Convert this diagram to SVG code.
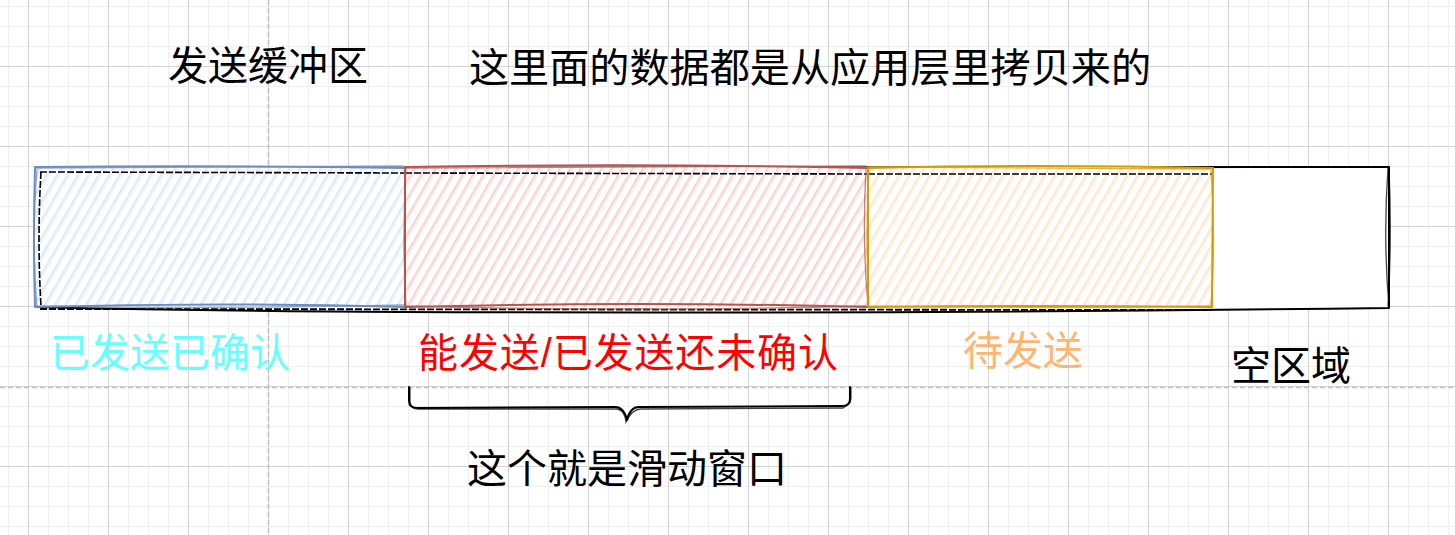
<svg xmlns="http://www.w3.org/2000/svg" width="1455" height="535" viewBox="0 0 1455 535">
<style>
  .t { font-family: "Liberation Sans", "Noto Sans CJK SC", sans-serif; font-size: 40px; }
  .sk { fill: none; stroke-width: 2; stroke-linejoin: round; stroke-linecap: round; }
  .sk2 { fill: none; stroke-width: 1.3; stroke-linecap: round; opacity: 0.75; }
</style>
<defs>
  <pattern id="gMinor" patternUnits="userSpaceOnUse" x="8" y="6" width="20" height="20">
    <path d="M0.5,0V20M0,0.5H20" stroke="#efefef" stroke-width="1" fill="none"/>
  </pattern>
  <pattern id="gMajor" patternUnits="userSpaceOnUse" x="28" y="66" width="80" height="80">
    <path d="M0.5,0V80M0,0.5H80" stroke="#d3d3d3" stroke-width="1" fill="none"/>
  </pattern>
  <pattern id="hBlue" patternUnits="userSpaceOnUse" width="9" height="9" patternTransform="rotate(30)">
    <rect width="9" height="9" fill="#ffffff"/>
    <path d="M2,0V9" stroke="#c8dbf6" stroke-width="1.2"/>
    <path d="M4,0V9" stroke="#dde9fb" stroke-width="0.8"/>
  </pattern>
  <pattern id="hRed" patternUnits="userSpaceOnUse" width="9" height="9" patternTransform="rotate(30)">
    <rect width="9" height="9" fill="#ffffff"/>
    <path d="M2,0V9" stroke="#f3b9b6" stroke-width="1.2"/>
    <path d="M4,0V9" stroke="#f8d2d0" stroke-width="0.8"/>
  </pattern>
  <pattern id="hOrange" patternUnits="userSpaceOnUse" width="9" height="9" patternTransform="rotate(30)">
    <rect width="9" height="9" fill="#ffffff"/>
    <path d="M2,0V9" stroke="#ffd8b0" stroke-width="1.2"/>
    <path d="M4,0V9" stroke="#ffe7cf" stroke-width="0.8"/>
  </pattern>
</defs>

<g id="background">
  <rect width="1455" height="535" fill="#ffffff"/>
  <rect width="1455" height="535" fill="url(#gMinor)"/>
  <rect width="1455" height="535" fill="url(#gMajor)"/>
  <path d="M268.5,0V535M0,387.5H1455" stroke="#c2c2c2" stroke-width="1.6" stroke-dasharray="5 3" fill="none"/>
</g>

<g id="buffer">
  <path d="M36,168 L1389,167 L1389,308 Q900,314 400,312 Q200,311 36,307 Z" fill="#ffffff"/>
  <path class="sk" d="M36,168 L1389,167 L1389,308 Q900,314 400,312 Q200,311 36,307 Z" stroke="#000"/>
  <path class="sk2" d="M1388,168 Q1383,238 1389,307 M1389,169 Q1392,238 1388,306" stroke="#000"/>
  <path d="M40,172 L1212,174 M41,172 Q37,240 41,308 M40,309 L1212,310" fill="none" stroke="#000" stroke-width="1.8" stroke-dasharray="7 2"/>
</g>

<g id="acked">
  <path d="M35,167 L405,167 L405,307 L35,307 Z" fill="url(#hBlue)"/>
  <path d="M40,172 L405,173 M41,172 Q37,240 41,306" fill="none" stroke="#000" stroke-width="1.6" stroke-dasharray="7 2"/>
  <path class="sk" d="M35,167 Q220,165 405,168 L405,307 Q220,302 35,307 Q33,237 35,167 Z" stroke="#6c8ebf"/>
  <path class="sk2" d="M37,168 L403,166 M36,306 Q200,309 404,305 M37,169 Q31,240 37,306" stroke="#6c8ebf"/>
</g>

<g id="inflight">
  <path d="M405,167 L868,167 L868,307 L405,307 Z" fill="url(#hRed)"/>
  <path d="M405,173 L868,174" fill="none" stroke="#000" stroke-width="1.6" stroke-dasharray="7 2"/>
  <path class="sk" d="M405,167 Q640,163 868,168 L868,307 Q640,301 405,307 Z" stroke="#b85450"/>
  <path class="sk2" d="M407,168 L866,166 M406,306 Q640,312 866,306 M406,168 Q402,240 406,306 M866,168 Q862,240 868,306" stroke="#b85450"/>
</g>

<g id="pending">
  <path d="M868,167 L1213,167 L1213,307 L868,307 Z" fill="url(#hOrange)"/>
  <path d="M868,174 L1212,174" fill="none" stroke="#000" stroke-width="1.6" stroke-dasharray="7 2"/>
  <path class="sk" d="M868,168 Q1040,164 1213,168 L1212,307 Q1040,305 868,307 Z" stroke="#d79b00"/>
  <path class="sk2" d="M870,167 L1211,169 M869,306 Q1040,309 1212,306 M869,169 Q865,240 869,306 M1211,169 Q1216,240 1211,306" stroke="#d79b00"/>
</g>

<g id="empty">
  <path d="M1213,168 L1389,167 L1389,308 L1213,308" fill="none"/>
</g>

<g id="titles">
  <text class="t" x="168" y="80" fill="#000000">发送缓冲区</text>
  <text class="t" x="469" y="82" fill="#000000" textLength="682" lengthAdjust="spacingAndGlyphs">这里面的数据都是从应用层里拷贝来的</text>
</g>

<g id="labels">
  <text class="t" x="50" y="367" fill="#66ffff">已发送已确认</text>
  <text class="t" x="418" y="367" fill="#ff0000" textLength="420" lengthAdjust="spacing">能发送/已发送还未确认</text>
  <text class="t" x="963" y="365" fill="#ffb570">待发送</text>
  <text class="t" x="1231" y="380" fill="#000000">空区域</text>
</g>

<g id="connectors">
  <path class="sk" stroke="#000" d="M409,387 L409,401 Q409,408 418,408 L615,407 Q624,407 627,420 Q630,407 639,407 L842,406 Q850,406 850,399 L850,387"/>
  <path class="sk2" stroke="#000" d="M410,388 L410,402 Q411,410 420,409 L617,409 Q625,410 626,422 Q632,409 641,409 L843,408 Q851,404 851,398 L851,388"/>
</g>

<g id="window-label">
  <text class="t" x="467" y="483" fill="#000000">这个就是滑动窗口</text>
</g>
</svg>
